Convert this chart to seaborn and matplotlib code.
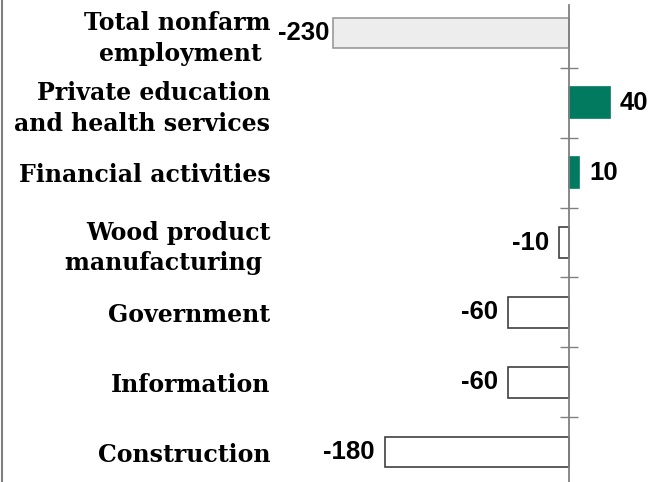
import matplotlib
matplotlib.use('Agg')
import matplotlib.pyplot as plt
import seaborn as sns
from matplotlib.lines import Line2D
from matplotlib.ticker import FixedLocator

# data (thousands)
industries = [
    'Total nonfarm\nemployment ',
    'Private education\nand health services',
    'Financial activities',
    'Wood product\nmanufacturing ',
    'Government',
    'Information',
    'Construction',
]
changes = [-230, 40, 10, -10, -60, -60, -180]
value_labels = ['-230', '40', '10', '-10', '-60', '-60', '-180']

green = '#017a5f'

sns.set_style('white')
plt.rcParams['font.family'] = ['DejaVu Serif']
plt.rcParams['text.color'] = 'black'
plt.rcParams['ytick.labelcolor'] = 'black'

fig = plt.figure(figsize=(6.68, 4.82), dpi=100)
ax = fig.add_axes([280 / 668, -5 / 482, 388 / 668, 1.0])

sns.barplot(x=changes, y=industries, orient='h', width=0.44, ax=ax,
            color='white', linewidth=1.2, edgecolor='#404040')

# colour bars: total in light gray, gains in green, losses outlined
for bar, val, i in zip(ax.patches, changes, range(len(changes))):
    if i == 0:
        bar.set_facecolor('#ededed')
        bar.set_edgecolor('#9a9a9a')
    elif val > 0:
        bar.set_facecolor(green)
        bar.set_edgecolor(green)
    else:
        bar.set_facecolor('white')
        bar.set_edgecolor('#404040')

ax.set_xlim(-282, 96.6)
ax.set_ylim(6.5, -0.4)

# value labels next to bars
for i, (val, lab) in enumerate(zip(changes, value_labels)):
    pad = 3 if i == 0 else 7
    off = pad if val > 0 else -pad
    ax.annotate(lab, (val, i), xytext=(off, 0), textcoords='offset points',
                ha='left' if val > 0 else 'right', va='center', color='black',
                fontsize=18.5, fontweight='bold', family='Liberation Sans')

# spine at zero with tick marks between categories
for s in ['top', 'right', 'bottom']:
    ax.spines[s].set_visible(False)
ax.spines['left'].set_position(('data', 0))
ax.spines['left'].set_color('#808080')
ax.spines['left'].set_linewidth(1.3)

ax.set_xticks([])
ax.yaxis.set_minor_locator(FixedLocator([0.5, 1.5, 2.5, 3.5, 4.5, 5.5]))
ax.tick_params(axis='y', which='major', length=0, pad=215, labelsize=17,
               labelcolor='black')
ax.tick_params(axis='y', which='minor', direction='inout', length=13,
               width=1.0, color='#808080', left=True)
for t in ax.get_yticklabels():
    t.set_fontweight('bold')
    t.set_linespacing(1.33)
ax.set_xlabel('')
ax.set_ylabel('')

# thin border on the left edge
fig.add_artist(Line2D([1.5 / 668, 1.5 / 668], [0, 1], transform=fig.transFigure,
                      color='#808080', linewidth=1.5))

fig.savefig('out.png', dpi=100)
